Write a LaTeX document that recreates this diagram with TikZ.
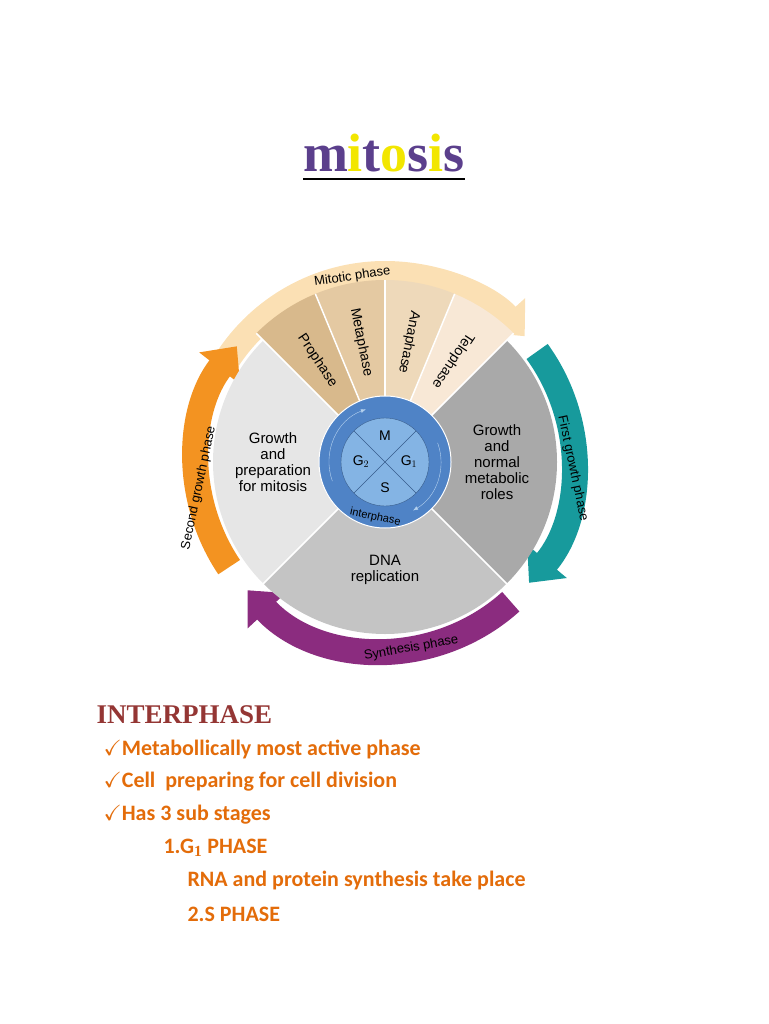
\documentclass[tikz,border=0pt]{standalone}
\usepackage{amssymb}
\usepackage{fontspec}
\setmainfont{Liberation Serif}
\newfontfamily\diag{Liberation Sans}
\newfontfamily\body{Carlito}
\usetikzlibrary{arrows.meta,calc}
\definecolor{ttlpurple}{HTML}{5B3F8C}
\definecolor{ttlyellow}{HTML}{F2E600}
\definecolor{proC}{HTML}{D8B98C}
\definecolor{metC}{HTML}{E4C9A2}
\definecolor{anaC}{HTML}{EED9BA}
\definecolor{telC}{HTML}{F8E8D6}
\definecolor{ganC}{HTML}{A9A9A9}
\definecolor{dnaC}{HTML}{C4C4C4}
\definecolor{gpmC}{HTML}{E6E6E6}
\definecolor{mitC}{HTML}{FBE0B4}
\definecolor{fgpC}{HTML}{179A9C}
\definecolor{synC}{HTML}{8B2C7F}
\definecolor{sgpC}{HTML}{F39321}
\definecolor{ringC}{HTML}{4F83C6}
\definecolor{coreC}{HTML}{84B4E4}
\definecolor{headC}{HTML}{943634}
\definecolor{bodyC}{HTML}{E36C0A}
\tikzset{
  lbl/.style={font=\diag\fontsize{15}{16}\selectfont, align=center},
  arclbl/.style={font=\diag\fontsize{13}{13}\selectfont},
  bigarrow/.style={line width=26pt, -{Triangle[width=50pt,length=28pt]}},
  bline/.style={anchor=west, text=bodyC, font=\body\bfseries\fontsize{22}{22}\selectfont}
}
\begin{document}
\begin{tikzpicture}[x=1pt,y=-1pt]
  \useasboundingbox (0,0) rectangle (768,1024);
  % title
  \node[font=\bfseries\fontsize{54}{54}\selectfont] (title) at (384,158)
    {\underline{\textcolor{ttlpurple}{m}\textcolor{ttlyellow}{i}\textcolor{ttlpurple}{t}\textcolor{ttlyellow}{o}\textcolor{ttlpurple}{s}\textcolor{ttlyellow}{i}\textcolor{ttlpurple}{s}}};
  \begin{scope}[shift={(385,462)}, yscale=-1]
  \coordinate (c) at (0,0);
  % outer arrows
  \draw[bigarrow, mitC] (c) ++(150:188) arc[start angle=150, end angle=42, radius=188];
  \draw[bigarrow, fgpC] (c) ++(36:188) arc[start angle=36, end angle=-40, radius=188];
  \draw[bigarrow, synC] (c) ++(-48:188) arc[start angle=-48, end angle=-137, radius=188];
  \draw[bigarrow, sgpC] (c) ++(-146:188) arc[start angle=-146, end angle=-218, radius=188];
  % sectors
  \fill[ganC] (c) -- ++(45:172) arc[start angle=45, end angle=-45, radius=172] -- cycle;
  \fill[dnaC] (c) -- ++(-45:172) arc[start angle=-45, end angle=-135, radius=172] -- cycle;
  \fill[gpmC] (c) -- ++(-135:172) arc[start angle=-135, end angle=-225, radius=172] -- cycle;
  \fill[proC] (c) -- ++(135:182) arc[start angle=135, end angle=112.5, radius=182] -- cycle;
  \fill[metC] (c) -- ++(112.5:182) arc[start angle=112.5, end angle=90, radius=182] -- cycle;
  \fill[anaC] (c) -- ++(90:182) arc[start angle=90, end angle=67.5, radius=182] -- cycle;
  \fill[telC] (c) -- ++(67.5:182) arc[start angle=67.5, end angle=45, radius=182] -- cycle;
  \foreach \a in {45,67.5,90,112.5,135,-45,-135}
    \draw[white, line width=1.5pt] (c) -- ++(\a:182);
  % arc labels
  \node[arclbl, rotate=8] (mitlbl) at ($(c)+(100:188)$) {Mitotic phase};
  \node[arclbl, rotate=-78] (fgplbl) at ($(c)+(-2:188)$) {First growth phase};
  \node[arclbl, rotate=10] (synlbl) at ($(c)+(-82:188)$) {Synthesis phase};
  \node[arclbl, rotate=78] (sgplbl) at ($(c)+(-172:188)$) {Second growth phase};
  % phase labels
  \foreach \a/\t/\n in {123.75/Prophase/pro, 101.25/Metaphase/met, 78.75/Anaphase/ana, 56.25/Telophase/tel}
    \node[font=\diag\fontsize{14}{14}\selectfont, rotate=\a-180] (\n) at ($(c)+(\a:122)$) {\t};
  \node[lbl] (ganlbl) at ($(c)+(0:112)$) {Growth\\and\\normal\\metabolic\\roles};
  \node[lbl] (dnalbl) at ($(c)+(-90:108)$) {DNA\\replication};
  \node[lbl] (gpmlbl) at ($(c)+(180:112)$) {Growth\\and\\preparation\\for mitosis};
  % centre
  \fill[ringC] (c) circle (66);
  \draw[white, line width=1pt] (c) circle (66);
  \draw[coreC!60!white, -{Latex[length=5pt]}] (c) ++(200:56) arc[start angle=200, end angle=110, radius=56];
  \draw[coreC!60!white, -{Latex[length=5pt]}] (c) ++(20:56) arc[start angle=20, end angle=-60, radius=56];
  \fill[coreC] (c) circle (44);
  \draw[ringC!70!black] (c) circle (44);
  \draw[ringC!70!black] (c) -- ++(45:44) (c) -- ++(135:44) (c) -- ++(225:44) (c) -- ++(315:44);
  \node[font=\diag\fontsize{14}{14}\selectfont] (mM) at ($(c)+(90:26)$) {M};
  \node[font=\diag\fontsize{14}{14}\selectfont] (mG1) at ($(c)+(0:24)$) {G$_1$};
  \node[font=\diag\fontsize{14}{14}\selectfont] (mS) at ($(c)+(-90:26)$) {S};
  \node[font=\diag\fontsize{14}{14}\selectfont] (mG2) at ($(c)+(180:24)$) {G$_2$};
  \node[font=\diag\fontsize{11}{11}\selectfont, rotate=-12] (intlbl) at ($(c)+(-100:56)$) {interphase};
  \end{scope}
  % text
  \node[anchor=west, text=headC, font=\bfseries\fontsize{27}{27}\selectfont] (head) at (93,715) {INTERPHASE};
  \node[bline] (l1) at (100,749) {$\checkmark$Metabollically most active phase};
  \node[bline] (l2) at (100,782) {$\checkmark$Cell\ \ preparing for cell division};
  \node[bline] (l3) at (100,815) {$\checkmark$Has 3 sub stages};
  \node[bline] (l4) at (160,848) {1.G$_\mathbf{1}$ PHASE};
  \node[bline] (l5) at (184,881) {RNA and protein synthesis take place};
  \node[bline] (l6) at (184,914) {2.S PHASE};
\end{tikzpicture}
\end{document}
